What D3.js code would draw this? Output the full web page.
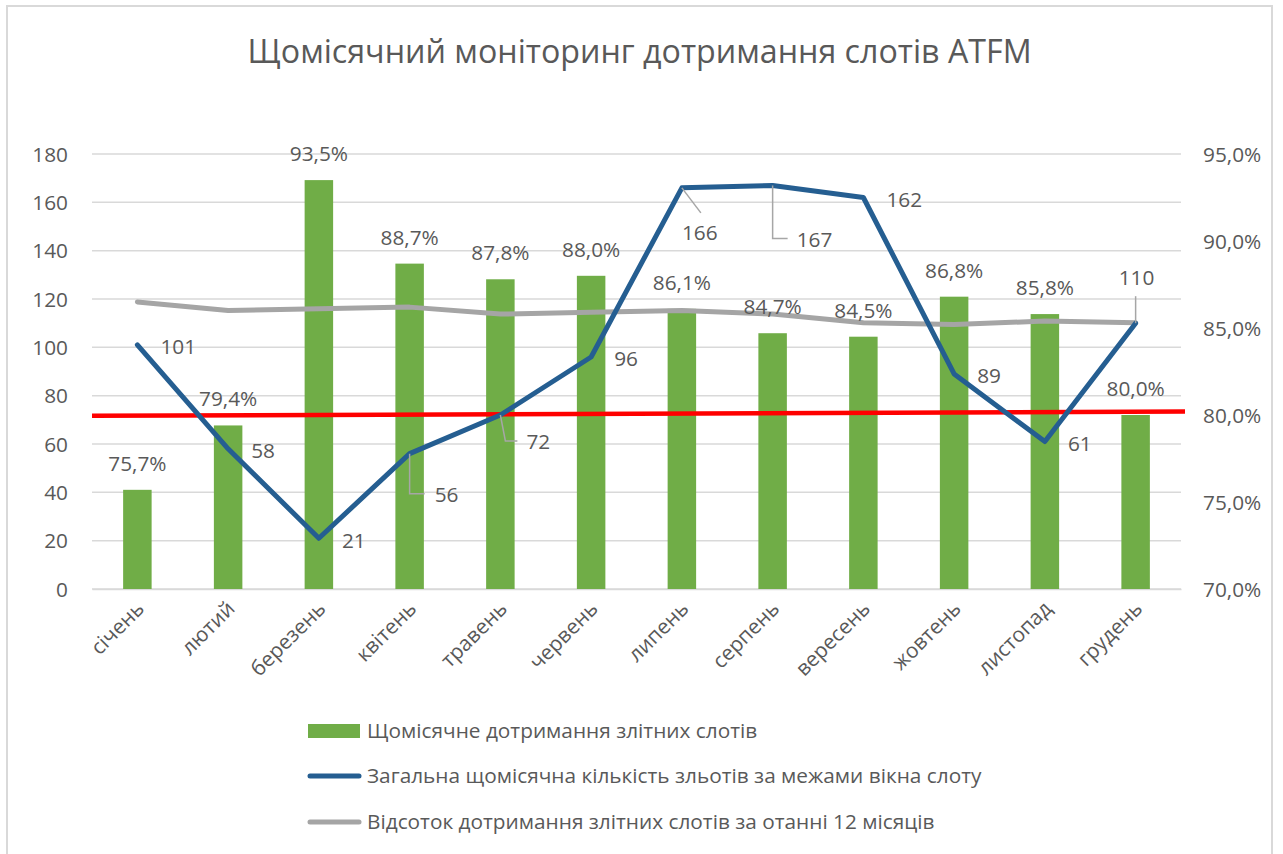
<!DOCTYPE html>
<html><head><meta charset="utf-8">
<script src="https://cdn.jsdelivr.net/npm/d3@7"></script>
<style>
html,body{margin:0;padding:0;background:#fff;}
svg text{font-family:"Open Sans",sans-serif;fill:#595959;}
</style></head>
<body>
<svg id="chart" width="1283" height="854"></svg>
<script>
// ---- data ----
const months = ["січень","лютий","березень","квітень","травень","червень","липень","серпень","вересень","жовтень","листопад","грудень"];
const monthlyCompliance = [75.7, 79.4, 93.5, 88.7, 87.8, 88.0, 86.1, 84.7, 84.5, 86.8, 85.8, 80.0];
const outsideSlotCount = [101, 58, 21, 56, 72, 96, 166, 167, 162, 89, 61, 110];
const rolling12Compliance = [86.5, 86.0, 86.1, 86.2, 85.8, 85.9, 86.0, 85.8, 85.3, 85.2, 85.4, 85.3];
const targetLine = [79.95, 80.2];
const leftTicks = [0, 20, 40, 60, 80, 100, 120, 140, 160, 180];
const rightTicks = [70, 75, 80, 85, 90, 95];
const title = "Щомісячний моніторинг дотримання слотів ATFM";
const legendLabels = ["Щомісячне дотримання злітних слотів",
  "Загальна щомісячна кількість зльотів за межами вікна слоту",
  "Відсоток дотримання злітних слотів за отанні 12 місяців"];

// ---- layout ----
const svg = d3.select("#chart");
const L = 92, R = 1181, T = 154, B = 589;
const FS = 20.8;
const green = "#70ad47", blue = "#255e91", gray = "#a5a5a5", red = "#ff0000", grid = "#d9d9d9";
const fmtPct = v => d3.format(".1f")(v).replace(".", ",") + "%";

// frame
svg.append("rect").attr("x", 7).attr("y", 6).attr("width", 1265).attr("height", 900)
  .attr("fill", "none").attr("stroke", grid).attr("stroke-width", 2);

// title
svg.append("text").attr("x", 639.5).attr("y", 63).attr("text-anchor", "middle")
  .attr("font-size", 32.2).text(title);

const x = d3.scaleBand().domain(months).range([L, R]).paddingInner(0.686).paddingOuter(0.343);
const cx = m => x(m) + x.bandwidth() / 2;
const yL = d3.scaleLinear().domain([0, 180]).range([B, T]);
const yR = d3.scaleLinear().domain([70, 95]).range([B, T]);

// gridlines
svg.append("g").selectAll("line").data(leftTicks).join("line")
  .attr("x1", L).attr("x2", R).attr("y1", d => yL(d)).attr("y2", d => yL(d))
  .attr("stroke", grid).attr("stroke-width", 1.5);

// left axis
const axL = d3.axisLeft(yL).tickValues(leftTicks).tickSize(0).tickPadding(0);
const gL = svg.append("g").attr("transform", `translate(${68},0)`).call(axL);
gL.select(".domain").remove();
gL.selectAll("text").attr("font-size", FS).attr("fill", "#595959").attr("font-family", "Open Sans").attr("dy", "0.35em");

// right axis
const axR = d3.axisRight(yR).tickValues(rightTicks).tickSize(0).tickPadding(0).tickFormat(fmtPct);
const gR = svg.append("g").attr("transform", `translate(${1203},0)`).call(axR);
gR.select(".domain").remove();
gR.selectAll("text").attr("font-size", FS).attr("fill", "#595959").attr("font-family", "Open Sans").attr("dy", "0.35em");

// bottom axis (category labels)
const axB = d3.axisBottom(x).tickSize(0).tickPadding(0);
const gB = svg.append("g").attr("transform", `translate(0,${B})`).call(axB);
gB.select(".domain").attr("stroke", grid).attr("stroke-width", 1.5);
gB.selectAll("text").attr("font-size", FS).attr("fill", "#595959").attr("font-family", "Open Sans")
  .attr("text-anchor", "end").attr("dy", 0).attr("y", 0)
  .attr("transform", "translate(8,21) rotate(-45)");

// bars
svg.append("g").selectAll("rect").data(months).join("rect")
  .attr("x", m => x(m)).attr("width", x.bandwidth())
  .attr("y", (m, i) => yR(monthlyCompliance[i]))
  .attr("height", (m, i) => B - yR(monthlyCompliance[i]))
  .attr("fill", green);

// target red line
svg.append("line").attr("x1", L).attr("x2", 1185)
  .attr("y1", yR(targetLine[0])).attr("y2", yR(targetLine[1]))
  .attr("stroke", red).attr("stroke-width", 4.5);

// gray rolling line
const lineR = d3.line().x((d, i) => cx(months[i])).y(d => yR(d));
svg.append("path").datum(rolling12Compliance).attr("d", lineR)
  .attr("fill", "none").attr("stroke", gray).attr("stroke-width", 5)
  .attr("stroke-linejoin", "round").attr("stroke-linecap", "round");

// blue line
const lineL = d3.line().x((d, i) => cx(months[i])).y(d => yL(d));
svg.append("path").datum(outsideSlotCount).attr("d", lineL)
  .attr("fill", "none").attr("stroke", blue).attr("stroke-width", 5)
  .attr("stroke-linejoin", "round").attr("stroke-linecap", "round");

// bar labels
svg.append("g").selectAll("text").data(months).join("text")
  .attr("x", m => cx(m)).attr("y", (m, i) => yR(monthlyCompliance[i]) - 19)
  .attr("text-anchor", "middle").attr("font-size", FS)
  .text((m, i) => fmtPct(monthlyCompliance[i]));

// blue labels, with manual offsets / leader lines for some
const labelAdjust = {
  3: {dx: 25, dy: 41, leader: [[0, 0], [0, 40], [15, 40]]},
  4: {dx: 26, dy: 27, leader: [[0, 0], [5, 26], [17, 26]]},
  6: {dx: 0, dy: 45, leader: [[0, 0], [19, 25]]},
  7: {dx: 24, dy: 54, leader: [[0, 0], [0, 53], [15, 53]]},
  11: {dx: -17, dy: -45, leader: [[0, 0], [0, -27]]}
};
const gLab = svg.append("g");
outsideSlotCount.forEach((v, i) => {
  const px = cx(months[i]), py = yL(v);
  const adj = labelAdjust[i] || {dx: 23, dy: 2};
  if (adj.leader) {
    gLab.append("path")
      .attr("d", d3.line()(adj.leader.map(p => [px + p[0], py + p[1]])))
      .attr("fill", "none").attr("stroke", "#a6a6a6").attr("stroke-width", 1.5);
  }
  gLab.append("text").attr("x", px + adj.dx).attr("y", py + adj.dy).attr("dy", "0.35em")
    .attr("font-size", FS).text(v);
});

// legend
const lg = svg.append("g");
lg.append("rect").attr("x", 308).attr("y", 724).attr("width", 52).attr("height", 14).attr("fill", green);
lg.append("line").attr("x1", 310).attr("x2", 359).attr("y1", 776).attr("y2", 776)
  .attr("stroke", blue).attr("stroke-width", 5).attr("stroke-linecap", "round");
lg.append("line").attr("x1", 310).attr("x2", 359).attr("y1", 822).attr("y2", 822)
  .attr("stroke", gray).attr("stroke-width", 5).attr("stroke-linecap", "round");
[731, 776, 822].forEach((yy, i) => {
  lg.append("text").attr("x", 367).attr("y", yy).attr("dy", "0.35em")
    .attr("font-size", FS).text(legendLabels[i]);
});
</script>
</body></html>
